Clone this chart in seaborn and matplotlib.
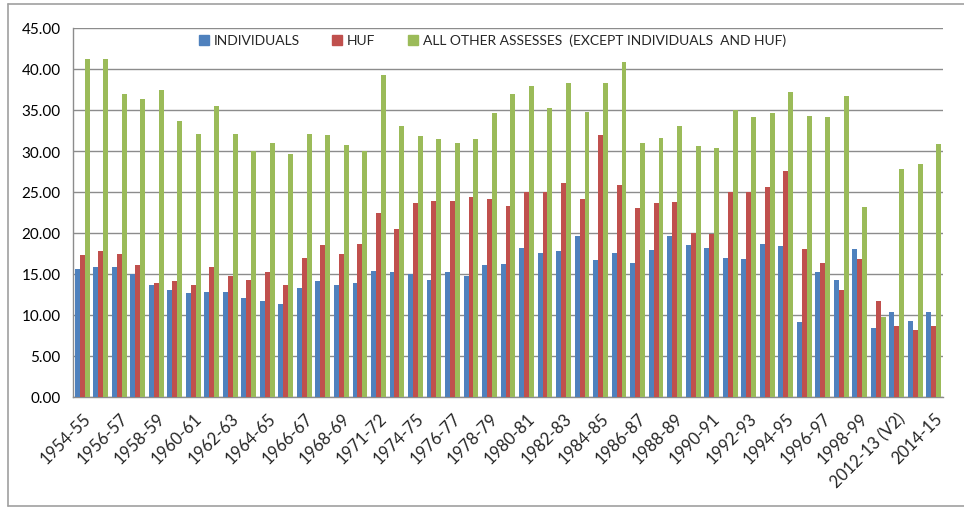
import numpy as np
import pandas as pd
import matplotlib
matplotlib.use("Agg")
import matplotlib.pyplot as plt
import seaborn as sns
from matplotlib.lines import Line2D
from matplotlib.ticker import FixedLocator, FormatStrFormatter

years = ["1954-55", "1955-56", "1956-57", "1957-58", "1958-59", "1959-60",
         "1960-61", "1961-62", "1962-63", "1963-64", "1964-65", "1965-66",
         "1966-67", "1967-68", "1968-69", "1970-71", "1971-72", "1973-74",
         "1974-75", "1975-76", "1976-77", "1977-78", "1978-79", "1979-80",
         "1980-81", "1981-82", "1982-83", "1983-84", "1984-85", "1985-86",
         "1986-87", "1987-88", "1988-89", "1989-90", "1990-91", "1991-92",
         "1992-93", "1993-94", "1994-95", "1995-96", "1996-97", "1997-98",
         "1998-99", "2012-13 (V1)", "2012-13 (V2)", "2013-14", "2014-15"]

individuals = [15.65, 15.9, 15.9, 15.0, 13.6, 13.0, 12.7, 12.8, 12.8, 12.1, 11.7, 11.3,
               13.3, 14.2, 13.7, 13.9, 15.4, 15.3, 15.0, 14.3, 15.3, 14.7, 16.1, 16.2,
               18.2, 17.6, 17.8, 19.6, 16.7, 17.6, 16.4, 17.9, 19.6, 18.5, 18.2, 17.0,
               16.8, 18.7, 18.4, 9.1, 15.3, 14.3, 18.1, 8.4, 10.4, 9.3, 10.4]
huf = [17.3, 17.8, 17.5, 16.1, 13.9, 14.2, 13.6, 15.8, 14.8, 14.3, 15.2, 13.6,
       17.0, 18.5, 17.5, 18.7, 22.4, 20.5, 23.6, 23.9, 23.9, 24.4, 24.2, 23.3,
       25.0, 25.0, 26.1, 24.1, 32.0, 25.8, 23.0, 23.6, 23.8, 20.0, 19.9, 25.0,
       25.0, 25.6, 27.6, 18.1, 16.4, 13.1, 16.8, 11.7, 8.7, 8.2, 8.7]
others = [41.2, 41.2, 36.9, 36.4, 37.5, 33.6, 32.1, 35.5, 32.1, 30.0, 31.0, 29.6,
          32.1, 32.0, 30.7, 30.0, 39.3, 33.0, 31.8, 31.5, 31.0, 31.5, 34.6, 37.0,
          37.9, 35.2, 38.3, 34.7, 38.3, 40.9, 31.0, 31.6, 33.0, 30.6, 30.4, 35.0,
          34.1, 34.6, 37.2, 34.3, 34.1, 36.7, 23.2, 9.8, 27.8, 28.4, 30.9]

series_names = ["INDIVIDUALS", "HUF", "ALL OTHER ASSESSES  (EXCEPT INDIVIDUALS  AND HUF)"]
colors = ["#4F81BD", "#C0504D", "#9BBB59"]
y_ticks = [0, 5, 10, 15, 20, 25, 30, 35, 40, 45]

df = pd.DataFrame({"year": years, series_names[0]: individuals,
                   series_names[1]: huf, series_names[2]: others})
long = df.melt(id_vars="year", var_name="series", value_name="value")

sns.set_style("white")
plt.rcParams["font.family"] = ["Lato", "DejaVu Sans"]

fig = plt.figure(figsize=(9.64, 5.10), dpi=100)
ax = fig.add_axes([73 / 964, 1 - 398 / 510, (943 - 73) / 964, (398 - 29) / 510])

sns.barplot(data=long, x="year", y="value", hue="series", order=years,
            hue_order=series_names, palette=colors, saturation=1, width=0.8,
            linewidth=0, ax=ax, legend=False, errorbar=None, zorder=3)

grid_c = "#8c8c8c"
ax.set_ylim(0, 45)
ax.set_xlim(-0.5, len(years) - 0.5)
ax.yaxis.set_major_locator(FixedLocator(y_ticks))
ax.yaxis.set_major_formatter(FormatStrFormatter("%.2f"))
ax.yaxis.grid(True, color=grid_c, linewidth=1.0, zorder=0)
ax.set_axisbelow(True)
for s in ["top", "right"]:
    ax.spines[s].set_visible(False)
for s in ["left", "bottom"]:
    ax.spines[s].set_color(grid_c)
    ax.spines[s].set_linewidth(1.0)

ax.tick_params(axis="y", which="major", length=5, color=grid_c, direction="out",
               labelsize=11, pad=4, labelcolor="#000000")
major_pos = list(range(0, len(years), 2))
ax.set_xticks(major_pos)
ax.set_xticklabels([years[i] for i in major_pos], rotation=45, ha="right",
                   va="top", rotation_mode="anchor", fontsize=12)
ax.tick_params(axis="x", which="major", length=0, pad=9)
ax.xaxis.set_minor_locator(FixedLocator(np.arange(-0.5, len(years), 1.0)))
ax.tick_params(axis="x", which="minor", length=5, color=grid_c, direction="out")
ax.set_xlabel("")
ax.set_ylabel("")

handles = [Line2D([], [], marker="s", linestyle="none", markersize=7,
                  markerfacecolor=c, markeredgecolor=c) for c in colors]
ax.legend(handles, series_names, loc="center", bbox_to_anchor=(0.5 - 0.019, 0.967),
          ncol=3, frameon=False, fontsize=10, handletextpad=0.2,
          columnspacing=2.2, handlelength=1.0)

frame_c = "#a0a0a0"
fig.add_artist(Line2D([8 / 964, 1.0], [1 - 5 / 510, 1 - 5 / 510], color=frame_c, lw=1.2))
fig.add_artist(Line2D([8 / 964, 8 / 964], [1 - 5 / 510, 1 - 507 / 510], color=frame_c, lw=1.2))
fig.add_artist(Line2D([8 / 964, 1.0], [1 - 507 / 510, 1 - 507 / 510], color=frame_c, lw=1.2))

fig.savefig("out.png", dpi=100)
